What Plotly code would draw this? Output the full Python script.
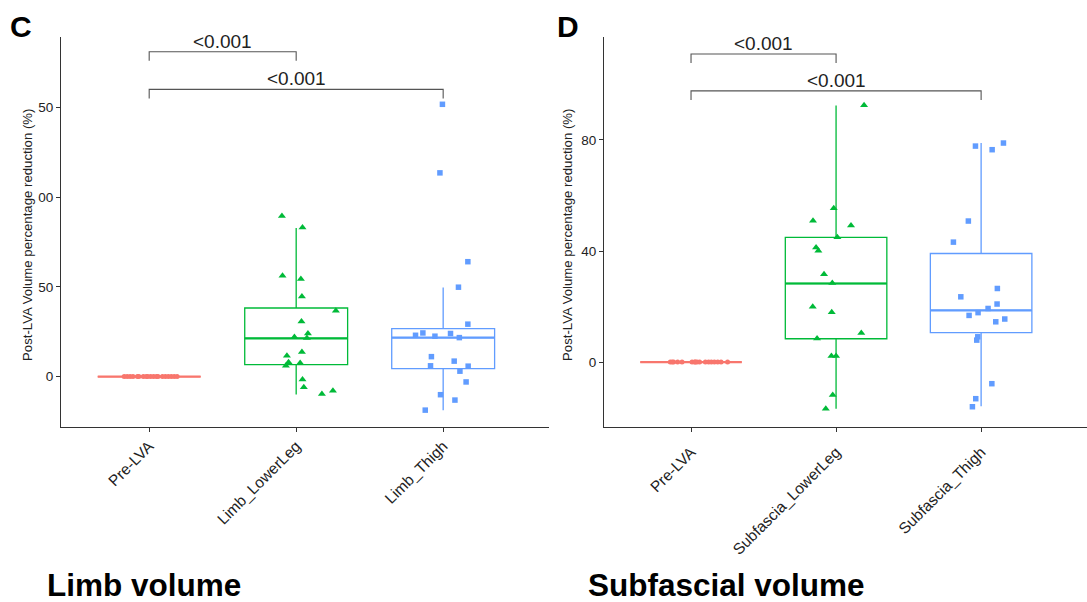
import numpy as np
import plotly.graph_objects as go

# ---------------- data ----------------
limb_categories = ["Pre-LVA", "Limb_LowerLeg", "Limb_Thigh"]
subfascia_categories = ["Pre-LVA", "Subfascia_LowerLeg", "Subfascia_Thigh"]

limb_pre = [0, 0, 0, 0, 0, 0, 0, 0, 0, 0, 0, 0, 0, 0, 0, 0, 0, 0, 0]
limb_pre_jitter = [-0.17, -0.15, -0.13, -0.11, -0.08, -0.07, -0.04, -0.01, 0.01, 0.03,
                   0.05, 0.09, 0.11, 0.13, 0.15, 0.17, 0.19, 0.06, -0.02]

limb_lower = [89.5, 83.0, 56.2, 54.3, 44.6, 36.7, 30.7, 22.1, 24.0, 21.5,
              13.7, 11.6, 8.0, 6.0, 7.5, -1.7, -6.0, -9.7, -7.9]
limb_lower_jitter = [-0.097, 0.043, -0.093, 0.032, 0.039, 0.27, 0.036, -0.012, 0.08, 0.073,
                     0.039, -0.063, -0.052, -0.07, 0.027, 0.043, 0.052, 0.175, 0.25]

limb_thigh = [151.7, 113.5, 64.0, 49.8, 29.2, 24.3, 23.0, 22.5, 24.0, 21.7,
              11.1, 8.6, 6.0, 5.8, 3.0, -3.0, -10.1, -13.1, -18.7]
limb_thigh_jitter = [-0.005, -0.022, 0.168, 0.104, 0.168, -0.138, -0.188, -0.056, 0.05, 0.11,
                     -0.08, 0.075, -0.086, 0.17, 0.114, 0.156, -0.018, 0.08, -0.122]

sub_pre = [0, 0, 0, 0, 0, 0, 0, 0, 0, 0, 0, 0, 0, 0, 0, 0, 0]
sub_pre_jitter = [-0.143, -0.12, -0.092, -0.062, 0.007, 0.025, 0.041, 0.059, 0.099, 0.121,
                  0.14, 0.161, 0.184, 0.207, 0.252, -0.13, 0.03]

sub_lower = [92.5, 55.4, 50.9, 49.2, 45.0, 41.3, 40.1, 31.6, 28.5, 19.9,
             17.9, 10.5, 8.5, 2.2, 2.2, -11.9, -16.8]
sub_lower_jitter = [0.193, -0.016, -0.159, 0.103, 0.009, -0.138, -0.122, -0.083, -0.026, -0.161,
                    -0.03, 0.174, -0.131, -0.032, 0.0, -0.023, -0.071]

sub_thigh = [78.9, 77.8, 76.5, 50.8, 43.2, 26.5, 23.5, 20.9, 19.3, 17.8,
             16.8, 15.5, 14.5, 9.1, 7.9, -7.8, -13.2, -16.1]
sub_thigh_jitter = [0.154, -0.039, 0.076, -0.088, -0.191, 0.112, -0.14, 0.11, 0.048, -0.021,
                    -0.083, 0.163, 0.101, -0.023, -0.03, 0.074, -0.037, -0.06]

# box statistics as drawn in the reference: [lower whisker, q1, median, q3, upper whisker]
limb_box_stats = [[0, 0, 0, 0, 0],
                  [-10.0, 6.7, 21.3, 38.2, 82.8],
                  [-18.7, 4.4, 21.7, 26.7, 49.6]]
sub_box_stats = [[0, 0, 0, 0, 0],
                 [-16.8, 8.4, 28.3, 44.9, 92.4],
                 [-15.9, 10.6, 18.6, 39.1, 78.9]]

p_labels = ["<0.001", "<0.001"]
comparisons = [(0, 1), (0, 2)]
limb_bracket_y = [181, 160]
sub_bracket_y = [111, 97.7]

limb_yticks = [0, 50, 100, 150]
limb_yticktext = ["0", "50", "00", "50"]
sub_yticks = [0, 40, 80]
sub_yticktext = ["0", "40", "80"]

# ---------------- styling ----------------
W, H = 1087, 602
FONT = "Liberation Sans, Arial, Helvetica, sans-serif"
colors = ["#F8766D", "#00BA38", "#619CFF"]
symbols = ["circle", "triangle-up", "square"]
msizes = [5, 7, 5.5]
BOX_W = 0.7

fig = go.Figure()

panels = [
    dict(xa="x", ya="y", cats=limb_categories,
         groups=[limb_pre, limb_lower, limb_thigh],
         jit=[limb_pre_jitter, limb_lower_jitter, limb_thigh_jitter],
         stats=limb_box_stats, by=limb_bracket_y, drop=5.0),
    dict(xa="x2", ya="y2", cats=subfascia_categories,
         groups=[sub_pre, sub_lower, sub_thigh],
         jit=[sub_pre_jitter, sub_lower_jitter, sub_thigh_jitter],
         stats=sub_box_stats, by=sub_bracket_y, drop=3.3),
]

shapes = []
annotations = []
for p in panels:
    for g in range(3):
        vals = np.array(p["groups"][g], dtype=float)
        lf, q1, med, q3, uf = p["stats"][g]
        fig.add_trace(go.Box(
            x=[g], q1=[q1], median=[med], q3=[q3], lowerfence=[lf], upperfence=[uf],
            xaxis=p["xa"], yaxis=p["ya"],
            width=BOX_W, whiskerwidth=0,
            fillcolor="rgba(255,255,255,0)",
            line=dict(color=colors[g], width=1.3),
            showlegend=False, hoverinfo="skip"))
        fig.add_trace(go.Scatter(
            x=[g - BOX_W / 2, g + BOX_W / 2], y=[med, med], mode="lines",
            xaxis=p["xa"], yaxis=p["ya"],
            line=dict(color=colors[g], width=2.2),
            showlegend=False, hoverinfo="skip"))
        fig.add_trace(go.Scatter(
            x=g + np.array(p["jit"][g]), y=vals, mode="markers",
            xaxis=p["xa"], yaxis=p["ya"],
            marker=dict(color=colors[g], symbol=symbols[g], size=msizes[g],
                        line=dict(width=0)),
            showlegend=False))
    for (a, b), yb, lab in zip(comparisons, p["by"], p_labels):
        shapes.append(dict(
            type="path", xref=p["xa"], yref=p["ya"],
            path=f"M {a},{yb - p['drop']} L {a},{yb} L {b},{yb} L {b},{yb - p['drop']}",
            line=dict(color="#555555", width=1.1)))
        annotations.append(dict(
            x=(a + b) / 2, y=yb, xref=p["xa"], yref=p["ya"], text=lab,
            showarrow=False, xanchor="center", yanchor="bottom", yshift=-2,
            font=dict(family=FONT, size=19, color="#222222")))

ydom = [1 - 427 / H, 1 - 37 / H]
axis_common = dict(showline=True, linecolor="#333333", linewidth=1.2,
                   ticks="outside", ticklen=4, tickcolor="#333333",
                   showgrid=False, zeroline=False, automargin=False)

fig.update_layout(
    width=W, height=H, margin=dict(l=0, r=0, t=0, b=0),
    paper_bgcolor="white", plot_bgcolor="white",
    font=dict(family=FONT, color="#222222"),
    xaxis=dict(domain=[61 / W, 549 / W], range=[-0.6, 2.72], anchor="y",
               tickvals=[0, 1, 2], ticktext=limb_categories, tickangle=-45,
               ticklabelstandoff=-1,
               tickfont=dict(size=15.5, color="#222222"), **axis_common),
    yaxis=dict(domain=ydom, range=[-28.1, 189.2], anchor="x",
               tickvals=limb_yticks, ticktext=limb_yticktext,
               tickfont=dict(size=13.5, color="#222222"), **axis_common),
    xaxis2=dict(domain=[604 / W, 1.0], range=[-0.6, 2.73], anchor="y2",
                tickvals=[0, 1, 2], ticktext=subfascia_categories, tickangle=-45,
                ticklabelstandoff=5,
                tickfont=dict(size=15.5, color="#222222"), **axis_common),
    yaxis2=dict(domain=ydom, range=[-23.4, 117.1], anchor="x2",
                tickvals=sub_yticks, ticktext=sub_yticktext,
                tickfont=dict(size=13.5, color="#222222"), **axis_common),
    shapes=shapes,
)

ytitle = "Post-LVA Volume percentage reduction (%)"
for xp in [27, 567]:
    annotations.append(dict(x=xp / W, y=1 - 235 / H, xref="paper", yref="paper",
                            text=ytitle, textangle=-90, showarrow=False,
                            xanchor="center", yanchor="middle",
                            font=dict(family=FONT, size=13.2, color="#222222")))
for letter, xp in [("C", 8), ("D", 555)]:
    annotations.append(dict(x=xp / W, y=1 - 8 / H, xref="paper", yref="paper",
                            text=f"<b>{letter}</b>", showarrow=False,
                            xanchor="left", yanchor="top",
                            font=dict(family=FONT, size=30, color="black")))
for title, xp in [("Limb volume", 45), ("Subfascial volume", 586)]:
    annotations.append(dict(x=xp / W, y=0, xref="paper", yref="paper",
                            text=f"<b>{title}</b>", showarrow=False,
                            xanchor="left", yanchor="bottom", yshift=-3,
                            font=dict(family=FONT, size=31.5, color="black")))

fig.update_layout(annotations=annotations)
fig.write_html("out.html", config={"displayModeBar": False},
               post_script="document.body.style.margin='0px';")
